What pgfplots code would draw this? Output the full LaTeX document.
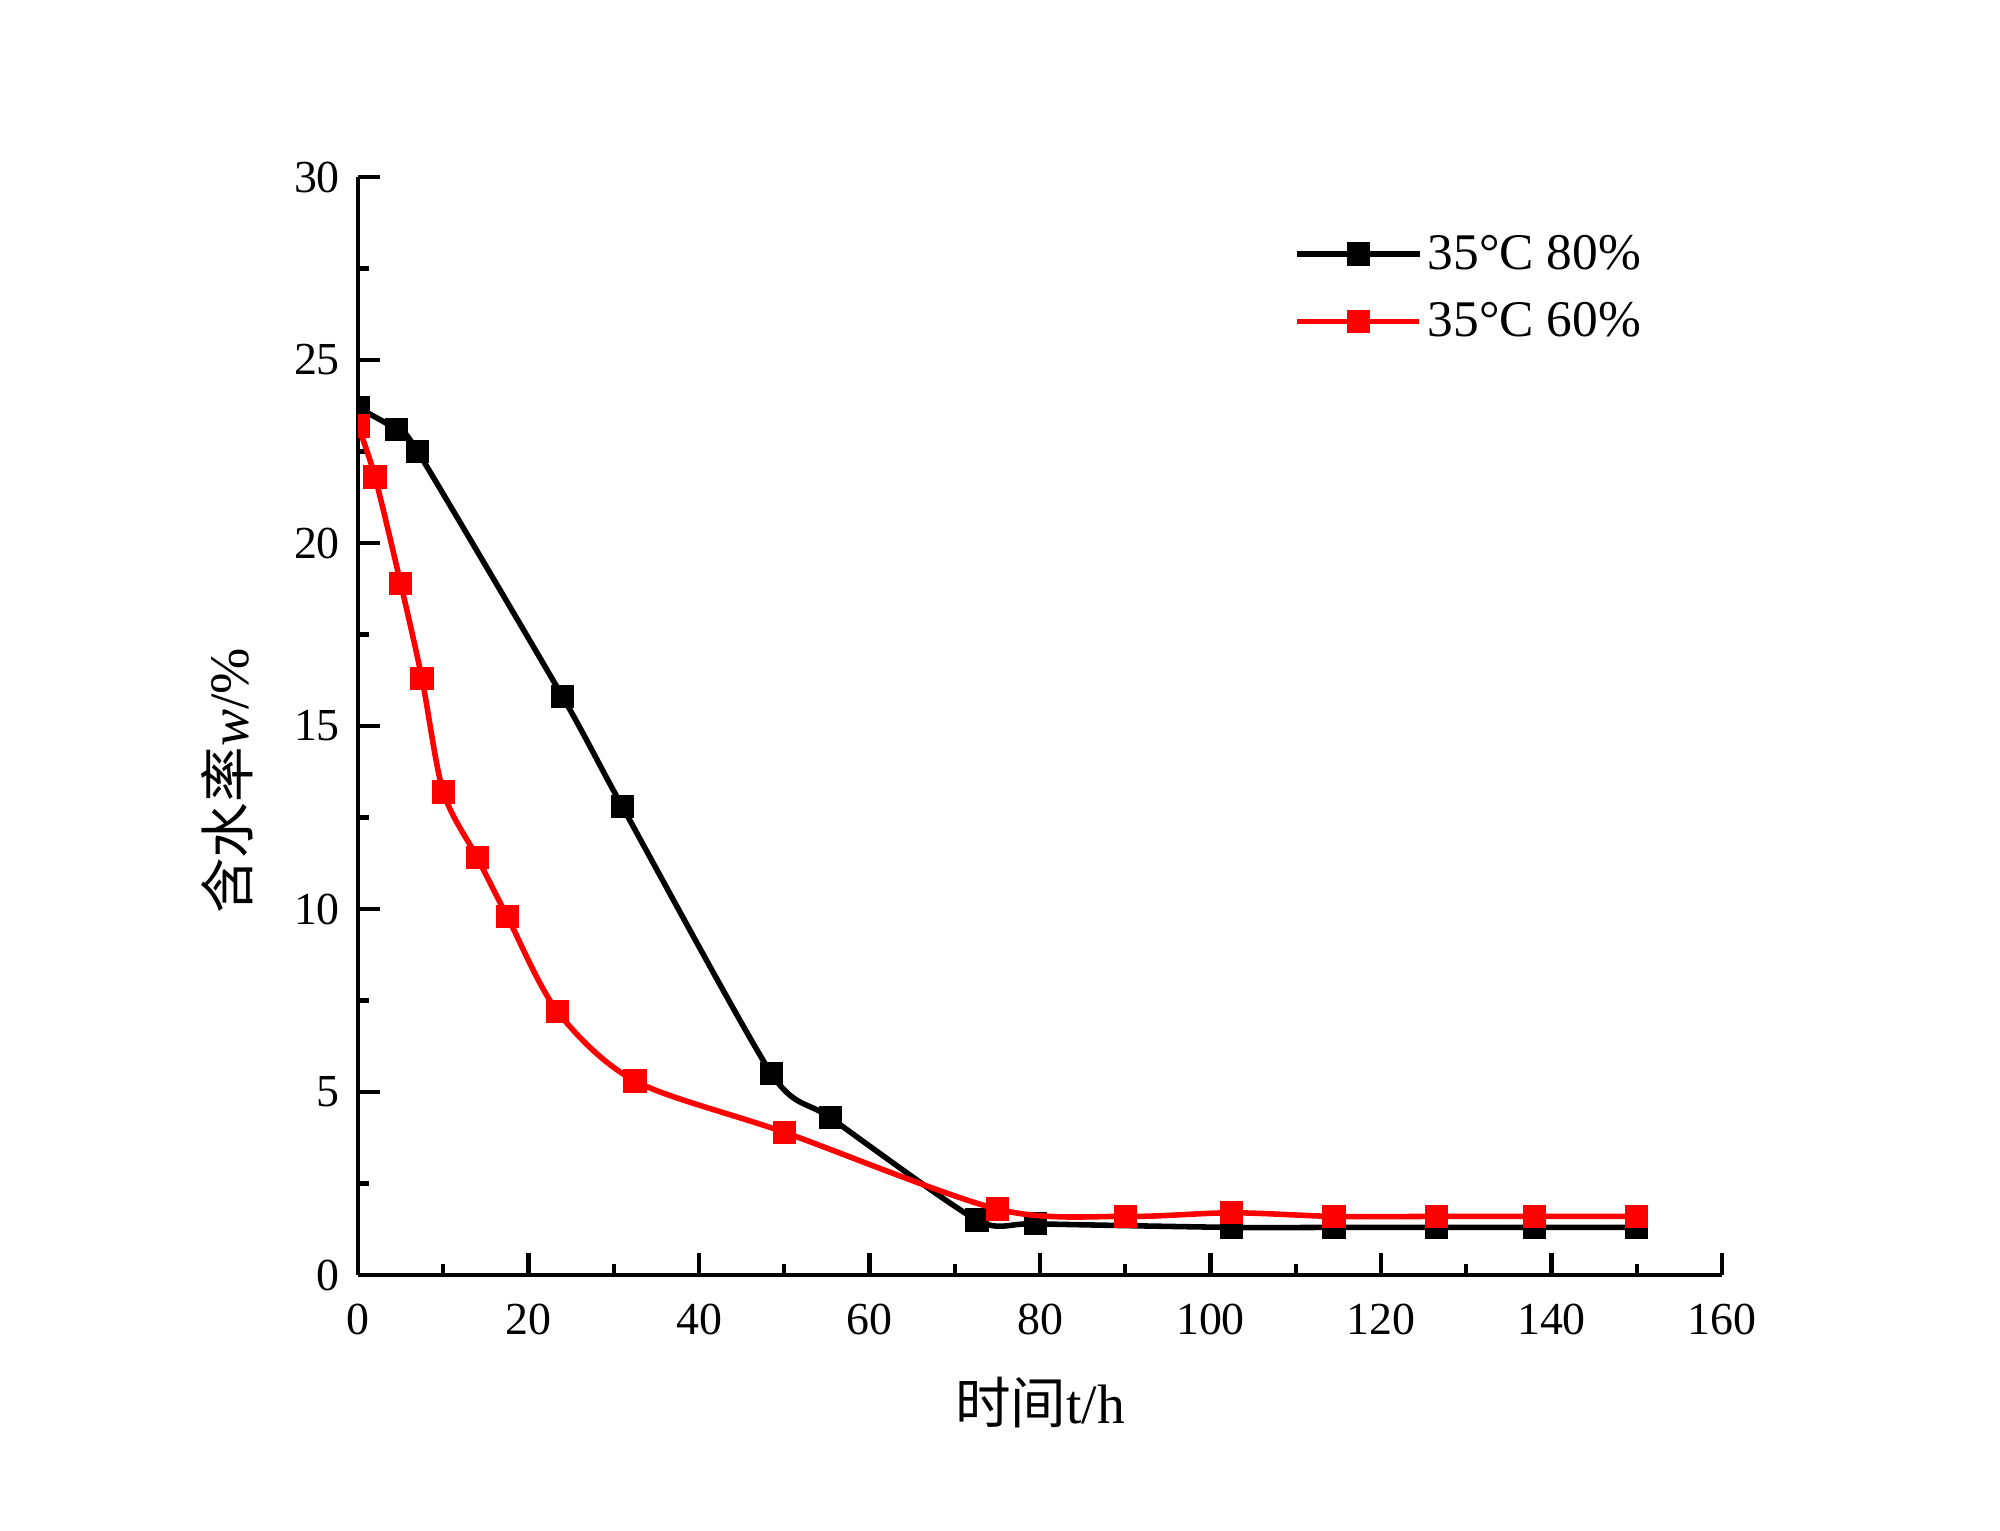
\documentclass[border=0pt]{standalone}
\usepackage{pgfplots}
\pgfplotsset{compat=1.18}
\usepackage{fontspec}
\setmainfont{Liberation Serif}
\newfontfamily\cjk{Noto Sans CJK SC}
\begin{document}
\begin{tikzpicture}
\useasboundingbox (-128.88pt,-92.16pt) rectangle (591.12pt,459pt);
\begin{axis}[
  scale only axis, width=491.04pt, height=395.28pt,
  xmin=0, xmax=160, ymin=0, ymax=30,
  axis x line*=bottom, axis y line*=left,
  axis line style={line width=1.5pt, black},
  xtick={0,20,...,160}, ytick={0,5,...,30},
  minor xtick={10,30,...,150}, minor ytick={2.5,7.5,...,27.5},
  tick align=inside,
  major tick length=8pt, minor tick length=4pt,
  every tick/.style={line width=1.5pt, black},
  /pgf/number format/assume math mode=true,
  tick label style={font=\fontsize{16.5}{16.5}\selectfont},
  xticklabel style={yshift=-7pt},
  yticklabel style={xshift=-3pt},
  xlabel={{\cjk 时间}t/h},
  ylabel={{\cjk 含水率}\textit{w}/\%},
  label style={font=\fontsize{20}{20}\selectfont},
  xlabel style={at={(axis description cs:0.5,0)}, anchor=center, yshift=-46pt},
  ylabel style={at={(axis description cs:-0.096,0.45)}, anchor=center, rotate=0},
  clip marker paths=true,
  legend style={draw=none, fill=none, at={(axis description cs:0.68,0.899)}, anchor=west,
    font=\fontsize{18.5}{18.5}\selectfont, row sep=6.5pt},
  legend cell align=left,
  legend image code/.code={\draw[mark repeat=2,mark phase=2] plot coordinates {(0pt,0pt) (22pt,0pt) (44pt,0pt)};},
]
\addplot[black, line width=2pt, smooth, tension=0.4, mark=square*, mark size=3.2pt, mark options={solid}] coordinates {
(0,23.7) (4.5,23.1) (7,22.5) (24,15.8) (31,12.8) (48.5,5.5) (55.4,4.3) (72.6,1.5) (79.5,1.4) (102.5,1.3) (114.5,1.3) (126.5,1.3) (138,1.3) (150,1.3)
};
\addlegendentry{35°C 80\%}
\addplot[red, line width=2pt, smooth, tension=0.5, mark=square*, mark size=3.2pt, mark options={solid}] coordinates {
(0,23.2) (2,21.8) (5,18.9) (7.5,16.3) (10,13.2) (14,11.4) (17.5,9.8) (23.4,7.2) (32.5,5.3) (50,3.9) (75,1.8) (90,1.6) (102.5,1.7) (114.5,1.6) (126.5,1.6) (138,1.6) (150,1.6)
};
\addlegendentry{35°C 60\%}
\end{axis}
\end{tikzpicture}
\end{document}
